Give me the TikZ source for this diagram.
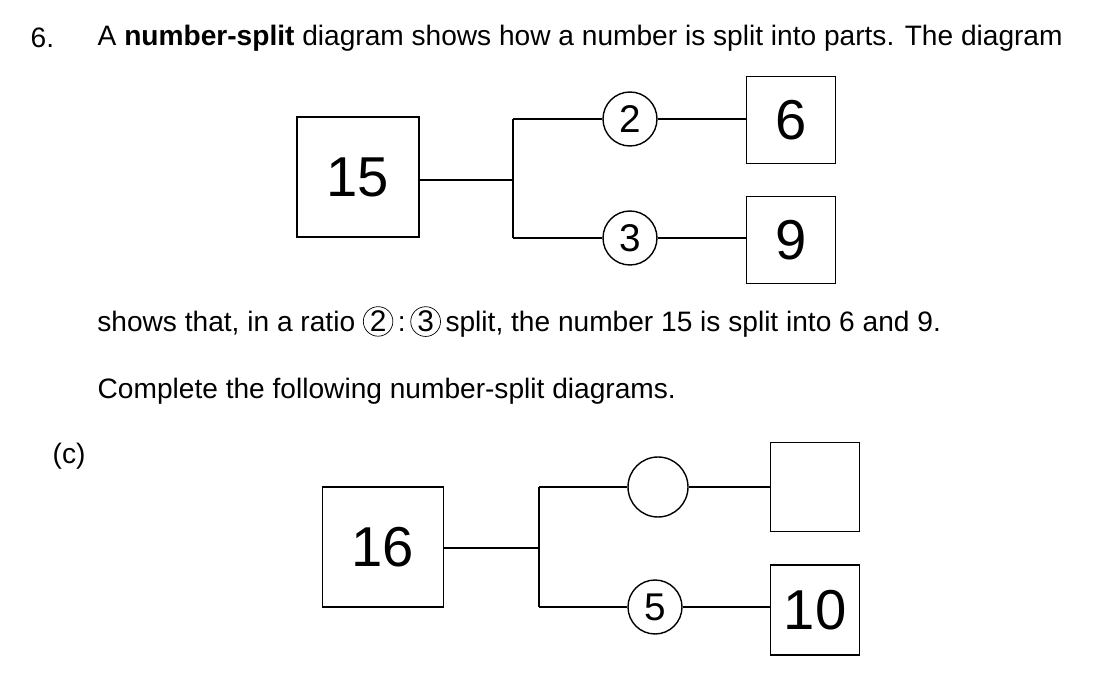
\documentclass[tikz,border=0pt]{standalone}
\usepackage{fontspec}
\setmainfont{Liberation Sans}
\usetikzlibrary{positioning}
\tikzset{
    num box/.style = {rectangle, draw, thick, inner sep=0pt},
    ratio circle/.style = {circle, draw, thick, minimum size=1.08cm, inner sep=0pt, font=\fontsize{22}{22}\selectfont},
    big num/.style = {font=\fontsize{32}{32}\selectfont},
    line text/.style = {anchor=west, inner sep=0pt, font=\fontsize{16}{18}\selectfont},
    rc/.style = {circle, draw, inner sep=0.6pt, font=\fontsize{17}{17}\selectfont}
}
\begin{document}
\begin{tikzpicture}[x=0.02cm, y=-0.02cm, thick]
    \useasboundingbox (0,0) rectangle (1095,685);
    % heading
    \node[line text] (qnum) at (30,38) {6.};
    \node[line text] (qtext) at (97,38) {A \textbf{number-split} diagram shows how a number is split into parts. The diagram};
    % example diagram
    \node[num box, big num, minimum width=2.44cm, minimum height=2.4cm] (b15) at (358,177) {15};
    \node[ratio circle] (c2) at (630,119) {2};
    \node[ratio circle] (c3) at (630,238) {3};
    \node[num box, big num, minimum width=1.78cm, minimum height=1.74cm] (b6) at (791,120) {6};
    \node[num box, big num, minimum width=1.78cm, minimum height=1.74cm] (b9) at (791,240) {9};
    \coordinate (j1) at (513,180);
    \coordinate (j1t) at (513,119);
    \coordinate (j1b) at (513,238);
    \draw (b15.east |- j1) -- (j1);
    \draw (j1t) -- (j1b);
    \draw (j1t) -- (c2) -- (c2 -| b6.west);
    \draw (j1b) -- (c3) -- (c3 -| b9.west);
    % explanation
    \node[line text] (expl) at (97,322) {shows that, in a ratio \tikz[baseline=(r.base)]\node[rc] (r) {2};\,:\,\tikz[baseline=(r.base)]\node[rc] (r) {3};\,split, the number 15 is split into 6 and 9.};
    \node[line text] (task) at (97,391) {Complete the following number-split diagrams.};
    \node[line text] (part) at (52,456) {(c)};
    % part (c)
    \node[num box, big num, minimum width=2.42cm, minimum height=2.4cm] (b16) at (383,547) {16};
    \node[ratio circle, minimum size=1.2cm] (cq) at (658,487) {};
    \node[ratio circle] (c5) at (655,607) {5};
    \node[num box, big num, minimum width=1.78cm, minimum height=1.78cm] (bq) at (815,487) {};
    \node[num box, big num, minimum width=1.78cm, minimum height=1.8cm] (b10) at (815,610) {10};
    \coordinate (j2) at (539,548);
    \coordinate (j2t) at (539,487);
    \coordinate (j2b) at (539,607);
    \draw (b16.east |- j2) -- (j2);
    \draw (j2t) -- (j2b);
    \draw (j2t) -- (cq) -- (cq -| bq.west);
    \draw (j2b) -- (c5) -- (c5 -| b10.west);
\end{tikzpicture}
\end{document}
